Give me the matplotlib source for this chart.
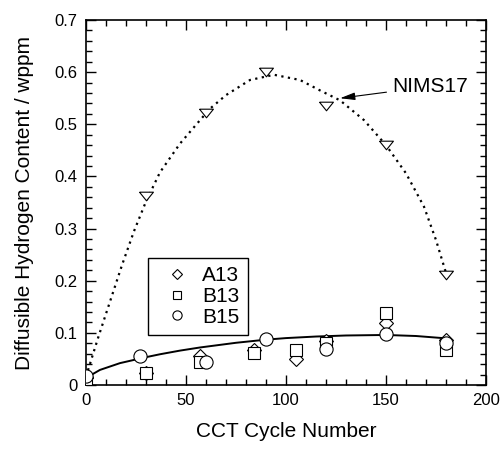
import matplotlib
matplotlib.use("Agg")
import matplotlib.pyplot as plt
from matplotlib.ticker import MultipleLocator, FuncFormatter

# measured points
nims_x = [0, 30, 60, 90, 120, 150, 180]
nims_y = [0.005, 0.363, 0.521, 0.600, 0.536, 0.460, 0.211]
a13_x = [0, 30, 57, 84, 105, 120, 150, 180]
a13_y = [0.015, 0.024, 0.055, 0.068, 0.049, 0.085, 0.118, 0.087]
b13_x = [0, 30, 57, 84, 105, 120, 150, 180]
b13_y = [0.012, 0.024, 0.045, 0.062, 0.067, 0.080, 0.139, 0.068]
b15_x = [0, 27, 60, 90, 120, 150, 180]
b15_y = [0.018, 0.056, 0.045, 0.088, 0.069, 0.098, 0.081]

# fitted curves
nims_fit_x = [0, 6, 12, 18, 24, 30, 37, 47, 55, 62, 70, 82, 94, 107, 117, 127,
              139, 150, 160, 169, 175, 180]
nims_fit_y = [0.016, 0.090, 0.160, 0.230, 0.295, 0.352, 0.408, 0.463, 0.499,
              0.530, 0.556, 0.585, 0.595, 0.585, 0.565, 0.546, 0.508, 0.460,
              0.406, 0.342, 0.278, 0.215]
low_fit_x = [0, 2, 7, 17, 29.5, 37, 47, 57, 75, 90, 100, 115, 130, 150, 165, 180]
low_fit_y = [0.010, 0.018, 0.029, 0.042, 0.053, 0.059, 0.066, 0.072, 0.081,
             0.087, 0.090, 0.093, 0.095, 0.096, 0.094, 0.0895]

plt.rcParams["font.family"] = ["Liberation Sans", "DejaVu Sans"]

fig = plt.figure(figsize=(5, 4.5), dpi=100)
ax = fig.add_axes([0.172, 0.1444, 0.8, 0.8111])

ax.plot(nims_fit_x, nims_fit_y, color="black", ls=(0, (1, 2)), lw=1.6, zorder=2)
ax.plot(low_fit_x, low_fit_y, color="black", ls="-", lw=1.4, zorder=2)

tri = [(-1, 0.62), (1, 0.62), (0, -0.62), (-1, 0.62)]
mk = dict(ls="none", mfc="white", mec="black", mew=0.8, zorder=3)
ax.plot(nims_x, nims_y, marker=tri, ms=10, **mk)
h1, = ax.plot(a13_x, a13_y, marker="D", ms=7, label="A13", **mk)
h2, = ax.plot(b13_x, b13_y, marker="s", ms=9, label="B13", **mk)
h3, = ax.plot(b15_x, b15_y, marker="o", ms=9.5, label="B15", **mk)

ax.annotate("NIMS17", xy=(127, 0.55), xytext=(153, 0.5725), fontsize=15,
            va="center", ha="left",
            arrowprops=dict(arrowstyle="-|>,head_length=0.6,head_width=0.15",
                            color="black", lw=0.8, shrinkA=2, shrinkB=0))

leg = ax.legend(handles=[h1, h2, h3], loc="upper left",
                bbox_to_anchor=(0.155, 0.348), borderaxespad=0,
                fontsize=15, frameon=True, fancybox=False, framealpha=1,
                edgecolor="black", markerscale=0.7, handlelength=2.0,
                handletextpad=0.2, labelspacing=0.08, borderpad=0.4)
leg.get_frame().set_linewidth(1.0)

ax.set_xlim(0, 200)
ax.set_ylim(0, 0.7)
ax.xaxis.set_major_locator(MultipleLocator(50))
ax.xaxis.set_minor_locator(MultipleLocator(10))
ax.yaxis.set_major_locator(MultipleLocator(0.1))
ax.yaxis.set_minor_locator(MultipleLocator(0.02))
ax.yaxis.set_major_formatter(FuncFormatter(lambda v, p: "0" if abs(v) < 1e-9 else f"{v:.1f}"))
ax.tick_params(which="both", direction="in", top=True, right=True, labelsize=12,
               width=1.0)
ax.tick_params(which="major", length=7, pad=6)
ax.tick_params(which="minor", length=4)
for s in ax.spines.values():
    s.set_linewidth(1.2)

ax.set_xlabel("CCT Cycle Number", fontsize=15, labelpad=10)
ax.set_ylabel("Diffusible Hydrogen Content / wppm", fontsize=15, labelpad=15)

fig.savefig("out.png", dpi=100)
